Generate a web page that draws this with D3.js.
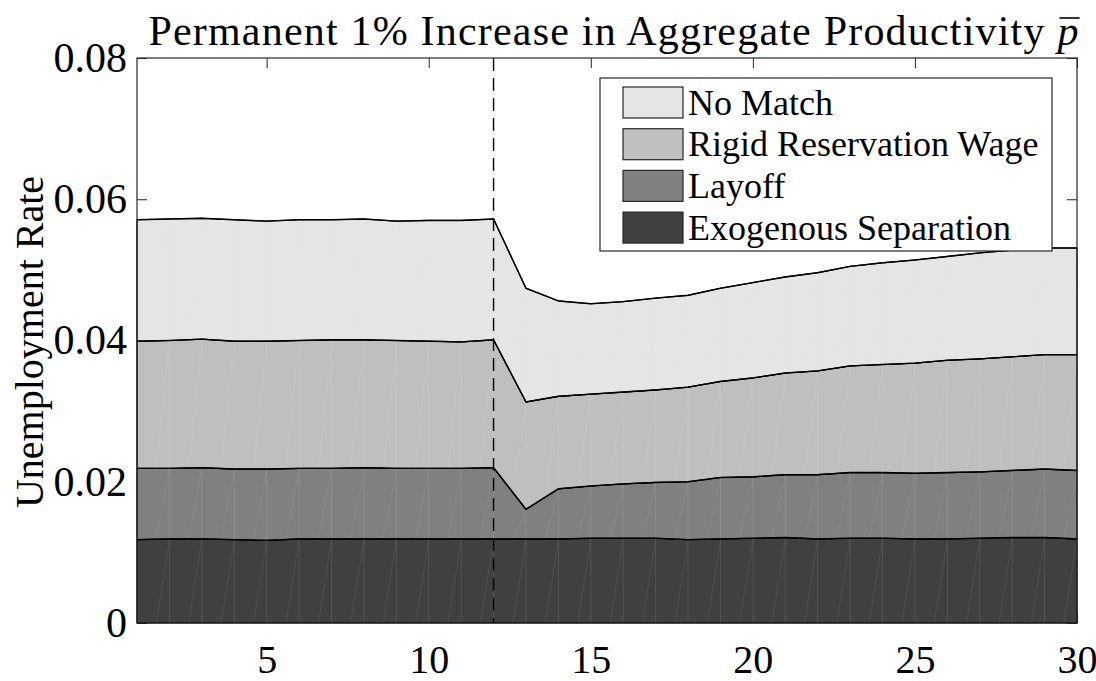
<!DOCTYPE html>
<html>
<head>
<meta charset="utf-8">
<script src="https://cdn.jsdelivr.net/npm/d3@7"></script>
<style>
  html, body { margin: 0; padding: 0; background: #ffffff; }
  svg { display: block; }
  text { font-family: "Liberation Serif", "Times New Roman", serif; fill: #000; }
</style>
</head>
<body>
<svg id="chart" width="1096" height="681"></svg>
<script>
// Quarters after the start of the simulation
const periods = [1,2,3,4,5,6,7,8,9,10,11,12,13,14,15,16,17,18,19,20,21,22,23,24,25,26,27,28,29,30];
const shockPeriod = 12;

// Unemployment decomposition by source (stacked bottom to top)
const exogenousSeparation = [0.0118,0.0119,0.0119,0.0118,0.0117,0.0119,0.0119,0.0119,0.0119,0.0119,0.0119,0.0119,
                             0.0119,0.0119,0.0120,0.0120,0.0120,0.0118,0.0119,0.0120,0.0121,0.0119,0.0120,0.0120,0.0119,0.0119,0.0120,0.0121,0.0121,0.0119];
const layoff = [0.0101,0.0100,0.0101,0.0100,0.0101,0.0100,0.0100,0.0101,0.0100,0.0100,0.0100,0.0101,
                0.0042,0.0071,0.0074,0.0077,0.0079,0.0082,0.0087,0.0087,0.0089,0.0091,0.0093,0.0093,0.0093,0.0094,0.0094,0.0095,0.0097,0.0097];
const rigidReservationWage = [0.0180,0.0181,0.0182,0.0181,0.0181,0.0181,0.0182,0.0181,0.0181,0.0180,0.0179,0.0181,
                              0.0152,0.0131,0.0130,0.0130,0.0131,0.0134,0.0136,0.0140,0.0144,0.0147,0.0151,0.0153,0.0156,0.0159,0.0160,0.0161,0.0162,0.0164];
const noMatch = [0.0172,0.0172,0.0171,0.0172,0.0170,0.0171,0.0170,0.0171,0.0169,0.0171,0.0172,0.0171,
                 0.0161,0.0135,0.0128,0.0128,0.0130,0.0130,0.0132,0.0135,0.0136,0.0139,0.0141,0.0144,0.0146,0.0147,0.0150,0.0151,0.0151,0.0151];

const seriesKeys = ["exog", "layoff", "rrw", "nomatch"];
const seriesNames = { exog: "Exogenous Separation", layoff: "Layoff", rrw: "Rigid Reservation Wage", nomatch: "No Match" };
const seriesFill = { exog: "#404040", layoff: "#808080", rrw: "#bfbfbf", nomatch: "#e5e5e5" };
const legendOrder = ["nomatch", "rrw", "layoff", "exog"];

const yTickValues = [0, 0.02, 0.04, 0.06, 0.08];
const yTickLabels = ["0", "0.02", "0.04", "0.06", "0.08"];
const xTickValues = [5, 10, 15, 20, 25, 30];
const xTickLabels = ["5", "10", "15", "20", "25", "30"];

const titleText = "Permanent 1% Increase in Aggregate Productivity ";
const yLabelText = "Unemployment Rate";

// ---- layout ----
const plot = { left: 137, right: 1077, top: 58, bottom: 623 };
const axisColor = "#262626";
const serif = '"Liberation Serif", "Times New Roman", serif';

const svg = d3.select("#chart");

const x = d3.scaleLinear().domain([1, 30]).range([plot.left, plot.right]);
const y = d3.scaleLinear().domain([0, 0.08]).range([plot.bottom, plot.top]);

const rows = periods.map((p, i) => ({
  t: p,
  exog: exogenousSeparation[i],
  layoff: layoff[i],
  rrw: rigidReservationWage[i],
  nomatch: noMatch[i]
}));

const stacked = d3.stack().keys(seriesKeys)(rows);

// ---- axes (drawn under the data, so the areas hide most ticks) ----
const gLeft = svg.append("g").attr("transform", `translate(${plot.left},0)`)
  .call(d3.axisLeft(y).tickValues(yTickValues).tickSizeInner(-10).tickSizeOuter(0).tickPadding(10)
        .tickFormat((d, i) => yTickLabels[i]));
const gRight = svg.append("g").attr("transform", `translate(${plot.right},0)`)
  .call(d3.axisRight(y).tickValues(yTickValues).tickSizeInner(-10).tickSizeOuter(0).tickFormat(""));
const gTop = svg.append("g").attr("transform", `translate(0,${plot.top})`)
  .call(d3.axisTop(x).tickValues(xTickValues).tickSizeInner(-10).tickSizeOuter(0).tickFormat(""));
const gBottom = svg.append("g").attr("transform", `translate(0,${plot.bottom})`)
  .call(d3.axisBottom(x).tickValues(xTickValues).tickSizeInner(-10).tickSizeOuter(0).tickPadding(22)
        .tickFormat((d, i) => xTickLabels[i]));

[gLeft, gRight, gTop, gBottom].forEach(g => {
  g.select(".domain").remove();
  g.selectAll(".tick line").attr("stroke", axisColor).attr("stroke-width", 1);
});
gLeft.selectAll(".tick text").attr("font-size", 42).attr("fill", "#000").attr("font-family", serif);
gBottom.selectAll(".tick text").attr("font-size", 40).attr("fill", "#000").attr("font-family", serif);

// ---- stacked areas ----
const area = d3.area()
  .x(d => x(d.data.t))
  .y0(d => y(d[0]))
  .y1(d => y(d[1]));

const gAreas = svg.append("g");
gAreas.selectAll("path.layer")
  .data(stacked)
  .join("path")
  .attr("class", "layer")
  .attr("d", area)
  .attr("fill", d => seriesFill[d.key])
  .attr("stroke", "#000")
  .attr("stroke-width", 1.2)
  .attr("stroke-linejoin", "round");

// faint rendering seams between the patch pieces
const seams = svg.append("g").attr("stroke", "#ffffff").attr("stroke-width", 1).attr("fill", "none");
stacked.forEach(layer => {
  layer.forEach((d, i) => {
    if (i === 0) return;
    const xi = x(d.data.t);
    seams.append("line")
      .attr("x1", xi).attr("x2", xi)
      .attr("y1", y(d[0]) - 1).attr("y2", y(d[1]) + 1)
      .attr("stroke-opacity", 0.1);
    const prev = layer[i - 1];
    const xm = x(d.data.t - 0.4);
    const y0m = y(prev[0] + (d[0] - prev[0]) * 0.6);
    seams.append("line")
      .attr("x1", xm).attr("y1", y0m - 1)
      .attr("x2", xi).attr("y2", y(d[1]) + 1)
      .attr("stroke-opacity", 0.07);
  });
});

// layer outlines redrawn above the seams
const topLine = d3.line().x(p => x(p.data.t)).y(p => y(p[1]));
gAreas.selectAll("path.edge")
  .data(stacked)
  .join("path")
  .attr("class", "edge")
  .attr("d", d => topLine(d))
  .attr("fill", "none")
  .attr("stroke", "#000")
  .attr("stroke-width", 1.4)
  .attr("stroke-linejoin", "round");

// ---- shock marker ----
svg.append("line")
  .attr("x1", x(shockPeriod)).attr("x2", x(shockPeriod))
  .attr("y1", y(0.08)).attr("y2", y(0))
  .attr("stroke", "#000")
  .attr("stroke-width", 1.4)
  .attr("stroke-dasharray", "13,7");

// ---- axes box ----
svg.append("rect")
  .attr("x", plot.left).attr("y", plot.top)
  .attr("width", plot.right - plot.left).attr("height", plot.bottom - plot.top)
  .attr("fill", "none").attr("stroke", axisColor).attr("stroke-width", 1.2);

// ---- title ----
const title = svg.append("text")
  .attr("x", 614).attr("y", 45)
  .attr("text-anchor", "middle")
  .attr("font-size", 42)
  .attr("letter-spacing", 1.2);
title.append("tspan").text(titleText);
title.append("tspan").attr("font-style", "italic").text("p");
{
  const node = title.node();
  const n = node.getNumberOfChars();
  const ext = node.getExtentOfChar(n - 1);
  svg.append("line")
    .attr("x1", ext.x + 2).attr("x2", ext.x + ext.width)
    .attr("y1", 18).attr("y2", 18)
    .attr("stroke", "#000").attr("stroke-width", 1.6);
}

// ---- y label ----
svg.append("text")
  .attr("transform", "translate(43,342) rotate(-90)")
  .attr("text-anchor", "middle")
  .attr("font-size", 40)
  .text(yLabelText);

// ---- legend ----
const legend = { x: 600, y: 78, w: 452, h: 173 };
const gLeg = svg.append("g");
gLeg.append("rect")
  .attr("x", legend.x).attr("y", legend.y)
  .attr("width", legend.w).attr("height", legend.h)
  .attr("fill", "#ffffff").attr("stroke", axisColor).attr("stroke-width", 1.2);
const rowGap = 41.7;
legendOrder.forEach((k, i) => {
  const cy = legend.y + 24.5 + i * rowGap;
  gLeg.append("rect")
    .attr("x", legend.x + 23).attr("y", cy - 15.5)
    .attr("width", 60).attr("height", 31)
    .attr("fill", seriesFill[k]).attr("stroke", "#262626").attr("stroke-width", 1.2);
  gLeg.append("text")
    .attr("x", legend.x + 88).attr("y", cy + 12)
    .attr("font-size", 36)
    .text(seriesNames[k]);
});
</script>
</body>
</html>
